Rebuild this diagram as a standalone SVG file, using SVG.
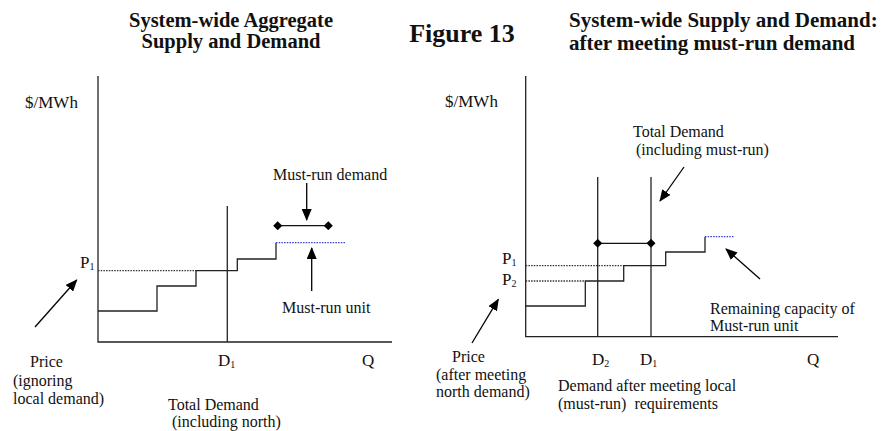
<svg xmlns="http://www.w3.org/2000/svg" width="882" height="431" viewBox="0 0 882 431">
  <defs>
    <style>
      text { font-family: "Liberation Serif", "Times New Roman", serif; fill: #111; }
      .t { font-size: 16px; }
      .big { font-size: 17px; }
      .sub { font-size: 10px; }
      .title { font-size: 20.5px; font-weight: bold; }
      .fig { font-size: 26px; font-weight: bold; }
      .ax { stroke: #222; stroke-width: 1.3; fill: none; }
      .step { stroke: #222; stroke-width: 1.3; fill: none; }
      .dot { stroke: #333; stroke-width: 1.3; stroke-dasharray: 1.5 1.2; fill: none; }
      .blue { stroke: #3c3cd2; stroke-width: 1.2; stroke-dasharray: 1.5 1.2; fill: none; }
      .arr { stroke: #000; stroke-width: 1.3; fill: none; marker-end: url(#arrowhead); }
      .bar { stroke: #111; stroke-width: 1.3; fill: none; marker-start: url(#diamond); marker-end: url(#diamond); }
    </style>
    <marker id="arrowhead" viewBox="0 0 12 10" refX="11" refY="5" markerWidth="12" markerHeight="10" markerUnits="userSpaceOnUse" orient="auto">
      <path d="M0,0 L12,5 L0,10 z" fill="#000"/>
    </marker>
    <marker id="diamond" viewBox="-5 -5 10 10" refX="0" refY="0" markerWidth="9" markerHeight="9" markerUnits="userSpaceOnUse">
      <path d="M-5,0 L0,-5 L5,0 L0,5 z" fill="#000"/>
    </marker>
  </defs>

  <!-- headings -->
  <g id="title-left">
    <text class="title" x="231" y="27" text-anchor="middle">System-wide Aggregate</text>
    <text class="title" x="231" y="48" text-anchor="middle">Supply and Demand</text>
  </g>
  <g id="figure-label">
    <text class="fig" x="462" y="42" text-anchor="middle">Figure 13</text>
  </g>
  <g id="title-right">
    <text class="title" x="569" y="27" style="font-size:21px">System-wide Supply and Demand:</text>
    <text class="title" x="569" y="50" style="font-size:21px">after meeting must-run demand</text>
  </g>

  <!-- left panel: aggregate supply and demand -->
  <g id="chart-left">
    <path class="ax" d="M98,76 V342 H392"/>
    <path class="dot" d="M98,270.7 H196"/>
    <path class="step" d="M98,311 H157 V286 H196 V270.7 H237.3 V259 H276 V242.7"/>
    <path class="blue" d="M276,242.7 H346"/>
    <path class="ax" d="M227.3,206 V342"/>
    <path class="bar" d="M277.7,225.7 H328.3"/>
    <text class="big" x="25" y="108">$/MWh</text>
    <text class="big" x="80" y="268">P<tspan class="sub" dy="2">1</tspan></text>
    <text class="big" x="218" y="366">D<tspan class="sub" dy="2">1</tspan></text>
    <text class="big" x="362" y="366">Q</text>
    <text class="t" x="273" y="180">Must-run demand</text>
    <text class="t" x="282" y="313">Must-run unit</text>
    <text class="t" x="30" y="367">Price</text>
    <text class="t" x="13" y="386">(ignoring</text>
    <text class="t" x="13" y="404">local demand)</text>
    <text class="t" x="168" y="410">Total Demand</text>
    <text class="t" x="172" y="427">(including north)</text>
  </g>

  <!-- right panel: after must-run demand -->
  <g id="chart-right">
    <path class="ax" d="M525.7,76 V336.7 H838"/>
    <path class="dot" d="M525.7,265.7 H623.7"/>
    <path class="dot" d="M525.7,281 H585.3"/>
    <path class="step" d="M525.7,306 H585.3 V281 H623.7 V265.7 H665.7 V252 H705 V236.7"/>
    <path class="blue" d="M705,236.7 H734"/>
    <path class="ax" d="M597.7,177 V336.7"/>
    <path class="ax" d="M651,177 V336.7"/>
    <path class="bar" d="M597.7,243.3 H651"/>
    <text class="big" x="445" y="107">$/MWh</text>
    <text class="big" x="502" y="264">P<tspan class="sub" dy="2">1</tspan></text>
    <text class="big" x="502" y="285">P<tspan class="sub" dy="2">2</tspan></text>
    <text class="big" x="592" y="365">D<tspan class="sub" dy="2">2</tspan></text>
    <text class="big" x="640" y="365">D<tspan class="sub" dy="2">1</tspan></text>
    <text class="big" x="807" y="365">Q</text>
    <text class="t" x="633" y="137">Total Demand</text>
    <text class="t" x="636" y="155">(including must-run)</text>
    <text class="t" x="710" y="314">Remaining capacity of</text>
    <text class="t" x="710" y="331">Must-run unit</text>
    <text class="t" x="452" y="362">Price</text>
    <text class="t" x="436" y="380">(after meeting</text>
    <text class="t" x="436" y="397">north demand)</text>
    <text class="t" x="558" y="391">Demand after meeting local</text>
    <text class="t" x="558" y="409" style="white-space:pre">(must-run)  requirements</text>
  </g>

  <!-- pointer arrows -->
  <g id="connectors">
    <path class="arr" d="M35,327 L76.7,280"/>
    <path class="arr" d="M306.7,183 V220"/>
    <path class="arr" d="M311.7,291 V248"/>
    <path class="arr" d="M472,343 L498.3,299.3"/>
    <path class="arr" d="M684,167 L660,201"/>
    <path class="arr" d="M760,279 L726,249"/>
  </g>
</svg>
